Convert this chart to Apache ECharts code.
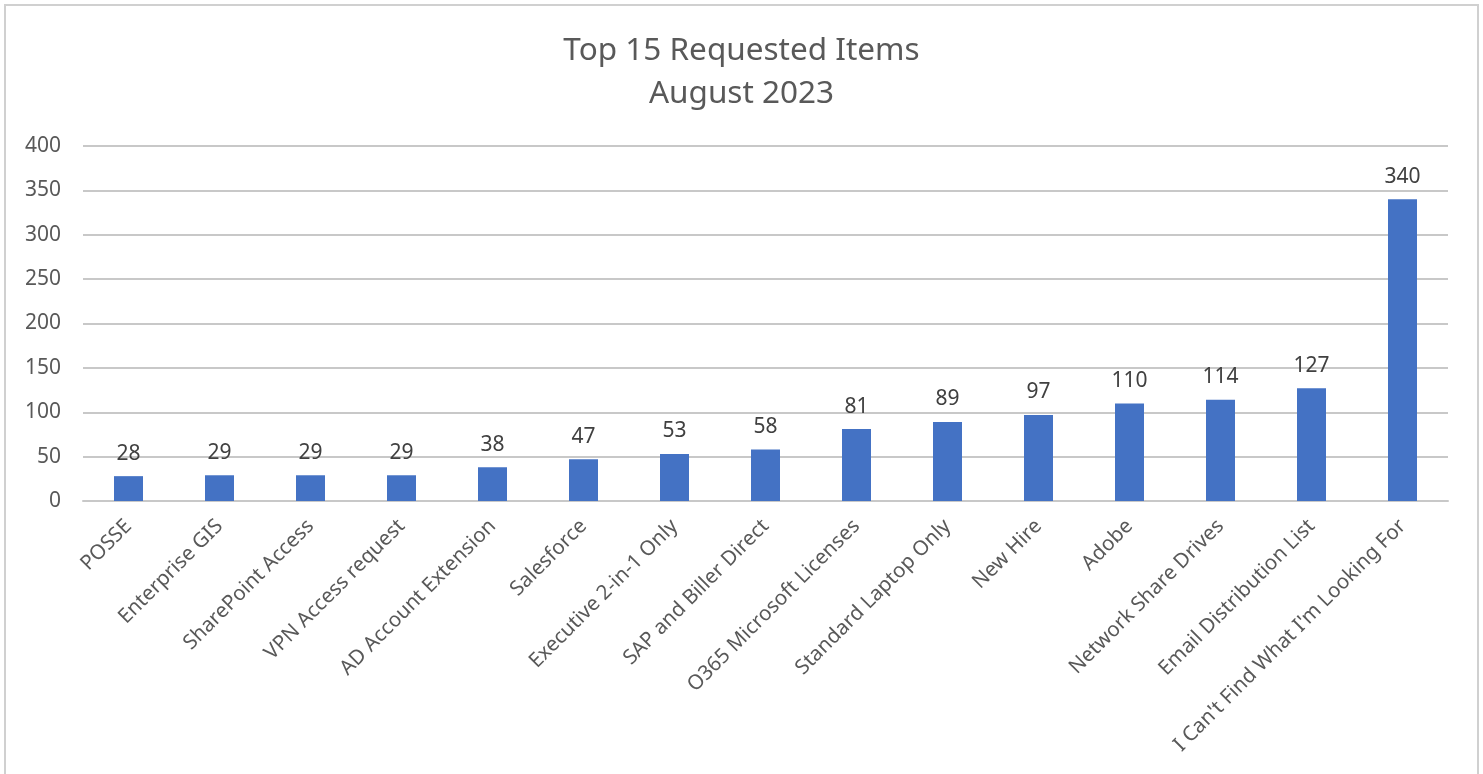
<!DOCTYPE html>
<html>
<head>
<meta charset="utf-8">
<script src="https://cdn.jsdelivr.net/npm/echarts@6/dist/echarts.min.js"></script>
<style>
html,body{margin:0;padding:0;background:#fff;}
#chart{width:1483px;height:774px;}
</style>
</head>
<body>
<div id="chart"></div>
<script>
const categories = ["POSSE","Enterprise GIS","SharePoint Access","VPN Access request","AD Account Extension","Salesforce","Executive 2-in-1 Only","SAP and Biller Direct","O365 Microsoft Licenses","Standard Laptop Only","New Hire","Adobe","Network Share Drives","Email Distribution List","I Can't Find What I'm Looking For"];
const values = [28,29,29,29,38,47,53,58,81,89,97,110,114,127,340];
const titleLines = ["Top 15 Requested Items","August 2023"];

const FONT = "'Noto Sans', 'Open Sans', sans-serif";
const chart = echarts.init(document.getElementById('chart'));
chart.setOption({
  animation:false,
  backgroundColor:'#fff',
  graphic:[{
    type:'rect', silent:true,
    shape:{x:5,y:5,width:1473,height:820},
    style:{fill:'none',stroke:'#d0d0d0',lineWidth:2}
  }],
  title:{
    text:titleLines.join('\n'),
    left:'center', top:25,
    textStyle:{fontFamily:FONT,fontSize:31.5,fontWeight:'normal',color:'#595959',lineHeight:43}
  },
  grid:{left:83,right:35,top:146,bottom:273,containLabel:false},
  xAxis:{
    type:'category', data:categories,
    axisLine:{show:true,lineStyle:{color:'#c8c8c8',width:2}},
    axisTick:{show:false},
    axisLabel:{rotate:45,interval:0,fontFamily:FONT,fontSize:20.5,color:'#595959',margin:22}
  },
  yAxis:{
    type:'value', min:0, max:400, interval:50,
    axisLine:{show:false}, axisTick:{show:false},
    axisLabel:{fontFamily:FONT,fontSize:21,color:'#595959',margin:22},
    splitLine:{lineStyle:{color:'#c8c8c8',width:2}}
  },
  series:[{
    type:'bar', data:values, barWidth:29,
    itemStyle:{color:'#4472C4'},
    label:{show:true,position:'top',distance:12,fontFamily:FONT,fontSize:21,color:'#404040'}
  }]
});
</script>
</body>
</html>
